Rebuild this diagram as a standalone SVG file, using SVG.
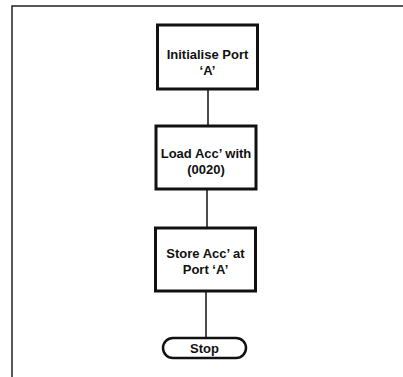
<svg xmlns="http://www.w3.org/2000/svg" width="403" height="377" viewBox="0 0 403 377">
<style>
.box{fill:#fff;stroke:#111;stroke-width:3}
.term{fill:#fff;stroke:#111;stroke-width:2.5}
.lbl{font-family:"Liberation Sans",Arial,sans-serif;font-weight:bold;font-size:13px;fill:#111;text-anchor:middle}
.conn{stroke:#111;stroke-width:1.5;fill:none}
.frame{stroke:#222;stroke-width:1.5;fill:none}
</style>
<rect width="403" height="377" fill="#fff"/>
<path class="frame" d="M12,377 V6 H403"/>
<g id="connectors">
<line class="conn" x1="208" y1="89" x2="208" y2="126"/>
<line class="conn" x1="207" y1="189" x2="207" y2="228"/>
<line class="conn" x1="206" y1="291" x2="206" y2="338"/>
</g>
<g id="init">
<rect class="box" x="157.5" y="25" width="100" height="64"/>
<text class="lbl" x="207.5" y="59">Initialise Port</text>
<text class="lbl" x="207.5" y="75">‘A’</text>
</g>
<g id="load">
<rect class="box" x="156" y="126" width="100" height="63"/>
<text class="lbl" x="206" y="158">Load Acc’ with</text>
<text class="lbl" x="206" y="174">(0020)</text>
</g>
<g id="store">
<rect class="box" x="155.5" y="228" width="100" height="63"/>
<text class="lbl" x="205.5" y="258">Store Acc’ at</text>
<text class="lbl" x="205.5" y="274">Port ‘A’</text>
</g>
<g id="stop">
<rect class="term" x="163" y="338" width="83" height="20" rx="10" ry="10"/>
<text class="lbl" x="204.5" y="352.5">Stop</text>
</g>
</svg>
